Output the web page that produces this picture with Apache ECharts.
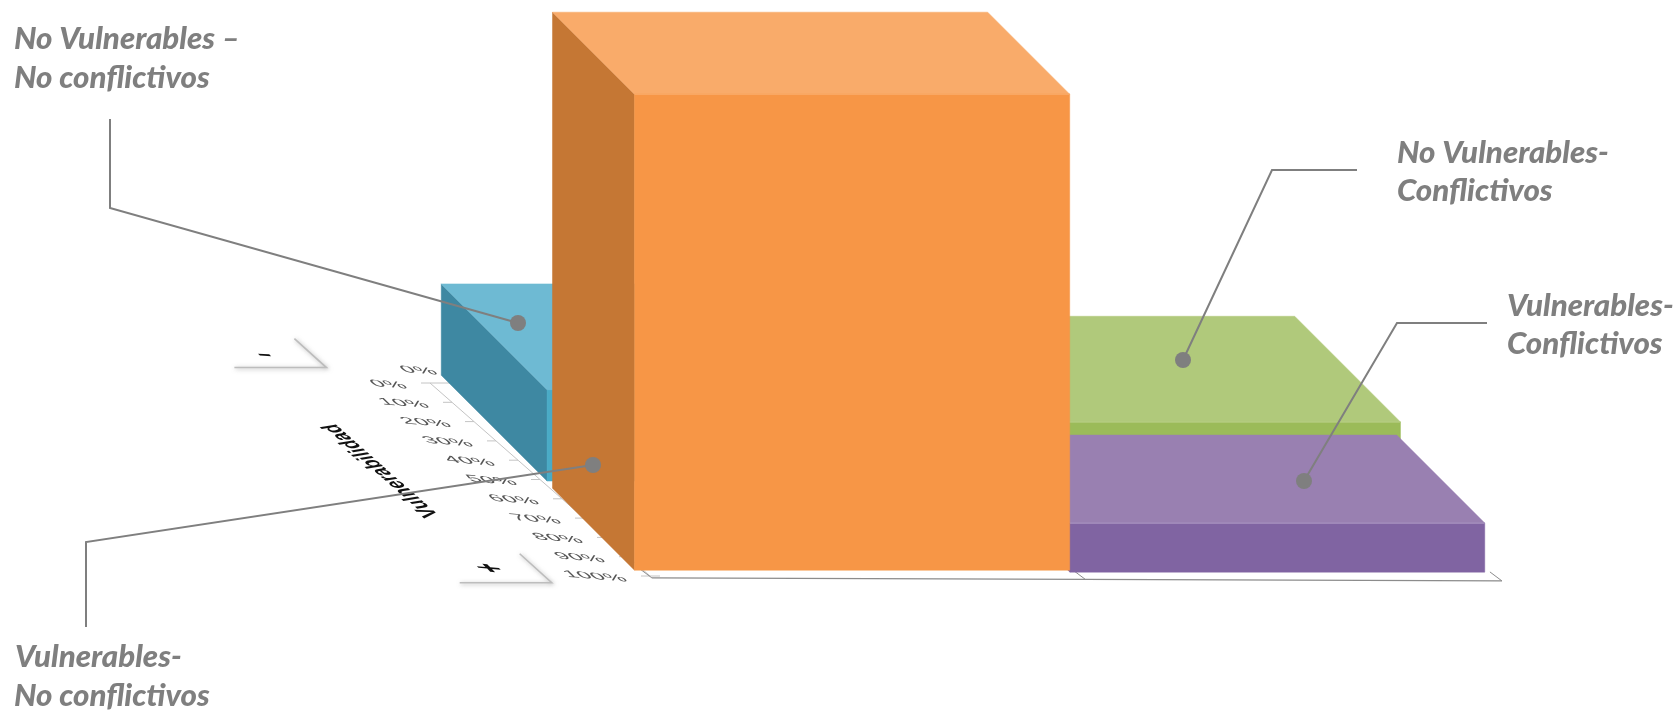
<!DOCTYPE html>
<html>
<head>
<meta charset="utf-8">
<style>html,body{margin:0;padding:0;background:#fff}#chart{width:1676px;height:711px}</style>
<script src="https://cdn.jsdelivr.net/npm/echarts@6/dist/echarts.min.js"></script>
</head>
<body>
<div id="chart"></div>
<script>
// ---- data ----
const categories = ['No Vulnerables – No conflictivos', 'No Vulnerables-Conflictivos', 'Vulnerables-Conflictivos', 'Vulnerables-No conflictivos'];
const conflictStart = [0, 50.8, 50.8, -0.2];
const conflictEnd = [51, 100.4, 99.6, 51];
const vulnerabilityStart = [-4, -4, 52.4, 54.5];
const vulnerabilityEnd = [50.8, 50.8, 98, 97];
const heights = [9.6, 6.2, 5.15, 50];
const vulnerabilityTicks = [0, 10, 20, 30, 40, 50, 60, 70, 80, 90, 100];
const conflictTicks = [0, 51, 100];

// ---- styling and oblique projection ----
const faceColors = [
  {top: '#6EBAD3', side: '#3E88A2', front: '#4AABC6', edge: '#6EBAD3'},
  {top: '#B0C97B', side: '#9BBB59', front: '#9BBB59', edge: '#BDD28F'},
  {top: '#9980B1', side: '#8064A2', front: '#8064A2', edge: '#B3A0C8'},
  {top: '#F9AB6A', side: '#C57734', front: '#F79646', edge: '#F9AB6A'}
];
const DEPTH = 1.93;      // px per vulnerability % along the receding floor
const AXIS_SLOPE = 2.2;  // horizontal px per % of the drawn depth axis
const GRAY = '#7f7f7f';

function project(api, c, v, h) {
  const p = api.coord([c, h]);
  const s = (v - 100) * DEPTH;
  return [p[0] + s, p[1] + s];
}
function axisPoint(api, v) {
  const p = api.coord([0, 0]);
  return [p[0] + 8 + (v - 100) * AXIS_SLOPE, p[1] + (v - 100) * DEPTH];
}
// Text drawn with an arbitrary affine matrix (columns: image of text-x, image of text-y)
function floorText(x, y, text, font, fill, align, m) {
  const E = (m[0] + m[3]) / 2, F = (m[0] - m[3]) / 2, G = (m[1] + m[2]) / 2, H = (m[1] - m[2]) / 2;
  const Q = Math.hypot(E, H), R = Math.hypot(F, G);
  const a1 = Math.atan2(G, F), a2 = Math.atan2(H, E);
  const theta = (a2 - a1) / 2, phi = (a2 + a1) / 2;
  const style = {text: text, font: font, fill: fill, textAlign: align, textVerticalAlign: 'middle'};
  return {
    type: 'group', x: x, y: y, rotation: -phi,
    children: [{
      type: 'group', scaleX: Q + R, scaleY: Q - R,
      children: [{type: 'text', rotation: -theta, style: style}]
    }]
  };
}
const tickMatrix = [1.6, 0.13, 0.7, 0.66];

function renderBlock(params, api) {
  const c0 = api.value(0), c1 = api.value(1), v0 = api.value(2), v1 = api.value(3), h = api.value(4);
  const col = faceColors[params.dataIndex];
  const P = (c, v, z) => project(api, c, v, z);
  const poly = (pts, fill) => ({type: 'polygon', shape: {points: pts}, style: {fill: fill, stroke: fill, lineWidth: 0.5}});
  return {
    type: 'group',
    children: [
      poly([P(c0, v0, 0), P(c0, v1, 0), P(c0, v1, h), P(c0, v0, h)], col.side),
      poly([P(c0, v0, h), P(c1, v0, h), P(c1, v1, h), P(c0, v1, h)], col.top),
      poly([P(c0, v1, 0), P(c1, v1, 0), P(c1, v1, h), P(c0, v1, h)], col.front),
      {type: 'line', shape: {x1: P(c0, v1, h)[0], y1: P(c0, v1, h)[1], x2: P(c1, v1, h)[0], y2: P(c1, v1, h)[1]},
       style: {stroke: col.edge, lineWidth: 1}}
    ]
  };
}
function renderVulnerabilityTick(params, api) {
  const v = api.value(0);
  const p = axisPoint(api, v);
  const reach = v === 0 ? 20 : v === 100 ? 10 : 0;
  return {
    type: 'group',
    children: [
      {type: 'line', shape: {x1: p[0] - 9, y1: p[1], x2: p[0] + reach, y2: p[1]}, style: {stroke: '#c4c4c4', lineWidth: 1}},
      floorText(p[0] - 24, p[1] + 3, v + '%', '15px "Liberation Sans"', '#555', 'right', tickMatrix)
    ]
  };
}
function renderAxisFrame(params, api) {
  const a = axisPoint(api, 0), b = axisPoint(api, 100);
  const backZero = axisPoint(api, -7.2);
  const title = axisPoint(api, 45);
  const minusBox = axisPoint(api, -8), plusBox = axisPoint(api, 103.5);
  const corner = (p, dx) => ({
    type: 'polyline',
    shape: {points: [[p[0] + dx - 92, p[1]], [p[0] + dx, p[1]], [p[0] + dx - 32, p[1] - 29]]},
    style: {fill: null, stroke: '#bdbdbd', lineWidth: 1.6, shadowColor: 'rgba(120,120,120,0.6)', shadowBlur: 4, shadowOffsetX: 1, shadowOffsetY: 1}
  });
  return {
    type: 'group',
    children: [
      {type: 'line', shape: {x1: a[0], y1: a[1], x2: b[0], y2: b[1]}, style: {stroke: '#c4c4c4', lineWidth: 1}},
      floorText(backZero[0] + 22, backZero[1] + 3, '0%', '15px "Liberation Sans"', '#555', 'right', tickMatrix),
      floorText(title[0] - 148, title[1] + 1, 'Vulnerabilidad', 'bold 15px "Liberation Sans"', '#111', 'center', [-1.02, -0.9, 1.5, -0.25]),
      corner(minusBox, -86), corner(plusBox, -106),
      floorText(minusBox[0] - 148, minusBox[1] - 13, '-', 'bold 26px "Liberation Sans"', '#111', 'center', [1.7, 0.1, 0.6, 0.6]),
      floorText(plusBox[0] - 168, plusBox[1] - 14, '+', 'bold 26px "Liberation Sans"', '#111', 'center', [1.7, 0.15, 0.6, 0.6])
    ]
  };
}
function renderConflictAxis(params, api) {
  const pts = conflictTicks.map(c => {
    const p = project(api, c, 101, 0);
    return [p[0] + 8, p[1] + c * 0.03];
  });
  const ticks = pts.map(p => ({
    type: 'line', shape: {x1: p[0] - 12, y1: p[1] - 9, x2: p[0], y2: p[1]}, style: {stroke: '#8c8c8c', lineWidth: 1}
  }));
  return {
    type: 'group',
    children: ticks.concat([{type: 'polyline', shape: {points: pts}, style: {fill: null, stroke: '#8c8c8c', lineWidth: 1.2}}])
  };
}

// ---- callouts ----
function callout(points, dot) {
  return [
    {type: 'polyline', z: 100, shape: {points: points}, style: {fill: null, stroke: GRAY, lineWidth: 2}},
    {type: 'circle', z: 101, shape: {cx: dot[0], cy: dot[1], r: 8}, style: {fill: GRAY}}
  ];
}
function calloutText(x, y, text) {
  return {type: 'text', z: 100, x: x, y: y, scaleX: 1.06,
    style: {text: text, font: 'italic 900 29.5px Lato', fill: GRAY, textVerticalAlign: 'middle'}};
}
const annotationElements = [].concat(
  callout([[110, 119], [110, 208], [518, 323]], [518, 323]),
  callout([[1357, 170], [1272, 170], [1183, 360]], [1183, 360]),
  callout([[1487, 323], [1397, 323], [1304, 481]], [1304, 481]),
  callout([[86, 627], [86, 542], [593, 465]], [593, 465]),
  [
    calloutText(14, 39, 'No Vulnerables –'), calloutText(14, 78, 'No conflictivos'),
    calloutText(1397, 153, 'No Vulnerables-'), calloutText(1397, 191, 'Conflictivos'),
    calloutText(1507, 306, 'Vulnerables-'), calloutText(1507, 344, 'Conflictivos'),
    calloutText(15, 657, 'Vulnerables-'), calloutText(14, 696, 'No conflictivos')
  ]
);

const chart = echarts.init(document.getElementById('chart'), null, {renderer: 'canvas'});
chart.setOption({
  animation: false,
  backgroundColor: '#ffffff',
  grid: {left: 642, right: 184, top: 100, bottom: 135},
  xAxis: {type: 'value', min: 0, max: 100, show: false},
  yAxis: {type: 'value', min: 0, max: 50, show: false},
  graphic: {elements: annotationElements},
  series: [
    {type: 'custom', name: 'axis frame', z: 1, silent: true, renderItem: renderAxisFrame, data: [0], encode: {x: 0}},
    {type: 'custom', name: 'Vulnerabilidad', z: 1, silent: true, renderItem: renderVulnerabilityTick,
     data: vulnerabilityTicks.map(v => [v]), encode: {x: 0}},
    {type: 'custom', name: 'Conflictividad', z: 1, silent: true, renderItem: renderConflictAxis, data: [0], encode: {x: 0}},
    {type: 'custom', name: 'Cuadrantes', z: 2, renderItem: renderBlock,
     encode: {x: [0, 1], y: 4, itemName: 5},
     data: categories.map((n, i) => [conflictStart[i], conflictEnd[i], vulnerabilityStart[i], vulnerabilityEnd[i], heights[i], n])}
  ]
});
</script>
</body>
</html>
